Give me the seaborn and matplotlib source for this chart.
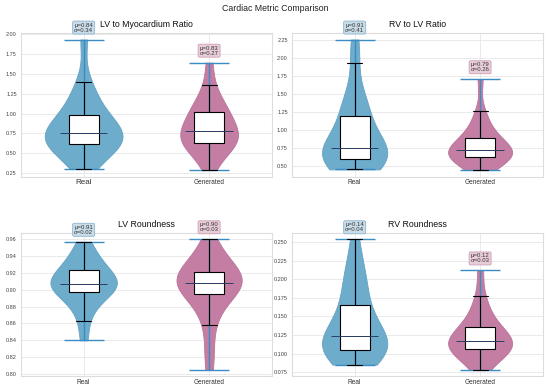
import matplotlib
matplotlib.use("Agg")
import matplotlib.pyplot as plt
import seaborn as sns
import numpy as np

# values (5% quantile steps per group)
groups = ["Real", "Generated"]
titles = ["LV to Myocardium Ratio", "RV to LV Ratio", "LV Roundness", "RV Roundness"]

lv_myo_real = [0.31, 0.42, 0.50, 0.56, 0.60, 0.62, 0.65, 0.68, 0.70, 0.72, 0.75,
               0.78, 0.82, 0.87, 0.93, 0.98, 1.05, 1.14, 1.26, 1.40, 1.93]
lv_myo_gen = [0.29, 0.45, 0.53, 0.58, 0.61, 0.63, 0.66, 0.69, 0.72, 0.75, 0.78,
              0.82, 0.87, 0.92, 0.97, 1.02, 1.06, 1.12, 1.20, 1.36, 1.64]
rv_lv_real = [0.45, 0.50, 0.53, 0.56, 0.58, 0.60, 0.62, 0.65, 0.68, 0.71, 0.75,
              0.80, 0.87, 0.96, 1.07, 1.19, 1.33, 1.38, 1.45, 1.93, 2.25]
rv_lv_gen = [0.44, 0.52, 0.56, 0.59, 0.61, 0.62, 0.64, 0.66, 0.68, 0.70, 0.72,
             0.74, 0.77, 0.80, 0.84, 0.89, 0.95, 1.02, 1.12, 1.26, 1.70]
lv_round_real = [0.840, 0.863, 0.878, 0.886, 0.892, 0.897, 0.900, 0.903, 0.905, 0.906, 0.907,
                 0.909, 0.912, 0.915, 0.919, 0.923, 0.927, 0.932, 0.938, 0.946, 0.957]
lv_round_gen = [0.805, 0.830, 0.858, 0.874, 0.885, 0.895, 0.899, 0.902, 0.905, 0.907, 0.908,
                0.910, 0.912, 0.915, 0.918, 0.921, 0.925, 0.930, 0.937, 0.946, 0.960]
rv_round_real = [0.085, 0.092, 0.097, 0.100, 0.103, 0.105, 0.108, 0.111, 0.115, 0.119, 0.124,
                 0.130, 0.137, 0.145, 0.155, 0.166, 0.180, 0.195, 0.205, 0.222, 0.254]
rv_round_gen = [0.078, 0.090, 0.096, 0.100, 0.103, 0.106, 0.108, 0.110, 0.112, 0.115, 0.117,
                0.120, 0.123, 0.127, 0.131, 0.136, 0.142, 0.150, 0.162, 0.177, 0.212]

means = [[0.84, 0.83], [0.91, 0.79], [0.91, 0.90], [0.14, 0.12]]
stds = [[0.34, 0.27], [0.41, 0.26], [0.02, 0.03], [0.04, 0.03]]

data = [[lv_myo_real, lv_myo_gen], [rv_lv_real, rv_lv_gen],
        [lv_round_real, lv_round_gen], [rv_round_real, rv_round_gen]]

fill_colors = ["#6eaccc", "#c47da3"]
edge_colors = ["#64a3c4", "#bb7399"]
label_bg = ["#c9dce8", "#e8cdd9"]
label_edge = ["#8db6cf", "#cf9fb7"]
line_blue = "#3a8cc4"
violin_widths = [[0.62, 0.46], [0.52, 0.51], [0.53, 0.52], [0.52, 0.51]]

sns.set_style("whitegrid")
plt.rcParams["font.family"] = ["Liberation Sans", "DejaVu Sans"]

fig, axes = plt.subplots(2, 2, figsize=(5.5, 3.88), dpi=100)
fig.subplots_adjust(left=0.038, right=0.987, top=0.915, bottom=0.03, wspace=0.08, hspace=0.39)
fig.suptitle("Cardiac Metric Comparison", fontsize=6.3, y=0.99, color="#222222")

for k, ax in enumerate(axes.flat):
    for i, g in enumerate(groups):
        vals = np.array(data[k][i])
        sns.violinplot(x=[g] * len(vals), y=vals, order=groups, ax=ax, inner=None,
                       cut=0, width=violin_widths[k][i], color=fill_colors[i],
                       linecolor=edge_colors[i], linewidth=0.6, saturation=1,
                       density_norm="width", bw_adjust=1.0)
        ax.vlines(i, vals.min(), vals.max(), color=line_blue, lw=1.0, zorder=2)
        ax.hlines([vals.min(), vals.max()], i - 0.16, i + 0.16, color=line_blue, lw=1.0, zorder=2)

    long_x = []
    long_y = []
    for i, g in enumerate(groups):
        long_x += [g] * len(data[k][i])
        long_y += data[k][i]
    sns.boxplot(x=long_x, y=long_y, order=groups, ax=ax, width=0.24, showfliers=False,
                boxprops=dict(facecolor="white", edgecolor="black", linewidth=0.8, zorder=3),
                whiskerprops=dict(color="black", linewidth=0.8, zorder=3),
                capprops=dict(color="black", linewidth=0.8, zorder=3),
                medianprops=dict(color="black", linewidth=0.6, zorder=4))

    for i, g in enumerate(groups):
        vals = np.array(data[k][i])
        ax.hlines(np.median(vals), i - 0.19, i + 0.19, color="#2b3f66", lw=0.7, zorder=5)
        ax.annotate(f"μ={means[k][i]:.2f}\nσ={stds[k][i]:.2f}", xy=(i, vals.max()),
                    xytext=(0, 5), textcoords="offset points", ha="center", va="bottom",
                    fontsize=4.3, color="#333333", linespacing=1.0, annotation_clip=False,
                    bbox=dict(boxstyle="round,pad=0.25", fc=label_bg[i], ec=label_edge[i], lw=0.6),
                    zorder=6)

    ax.set_xlim(-0.5, 1.5)
    ax.set_title(titles[k], fontsize=6.3, pad=4, color="#111111")
    ax.set_xlabel("")
    ax.set_ylabel("")
    ax.tick_params(axis="y", labelsize=4.0, pad=3, length=0, labelcolor="#444444")
    ax.tick_params(axis="x", labelsize=4.7, pad=2, length=0, labelcolor="#333333")
    ax.grid(True, color="#e6e6e6", lw=0.6)
    for sp in ax.spines.values():
        sp.set_color("#dddddd")
        sp.set_linewidth(0.8)

axes[0, 0].get_xticklabels()[0].set_fontsize(5.8)
axes[0, 0].yaxis.set_major_locator(matplotlib.ticker.MultipleLocator(0.25))
axes[0, 1].yaxis.set_major_locator(matplotlib.ticker.MultipleLocator(0.25))
axes[1, 0].yaxis.set_major_locator(matplotlib.ticker.MultipleLocator(0.02))
axes[1, 1].yaxis.set_major_locator(matplotlib.ticker.MultipleLocator(0.025))

fig.savefig("out.png", dpi=100)
